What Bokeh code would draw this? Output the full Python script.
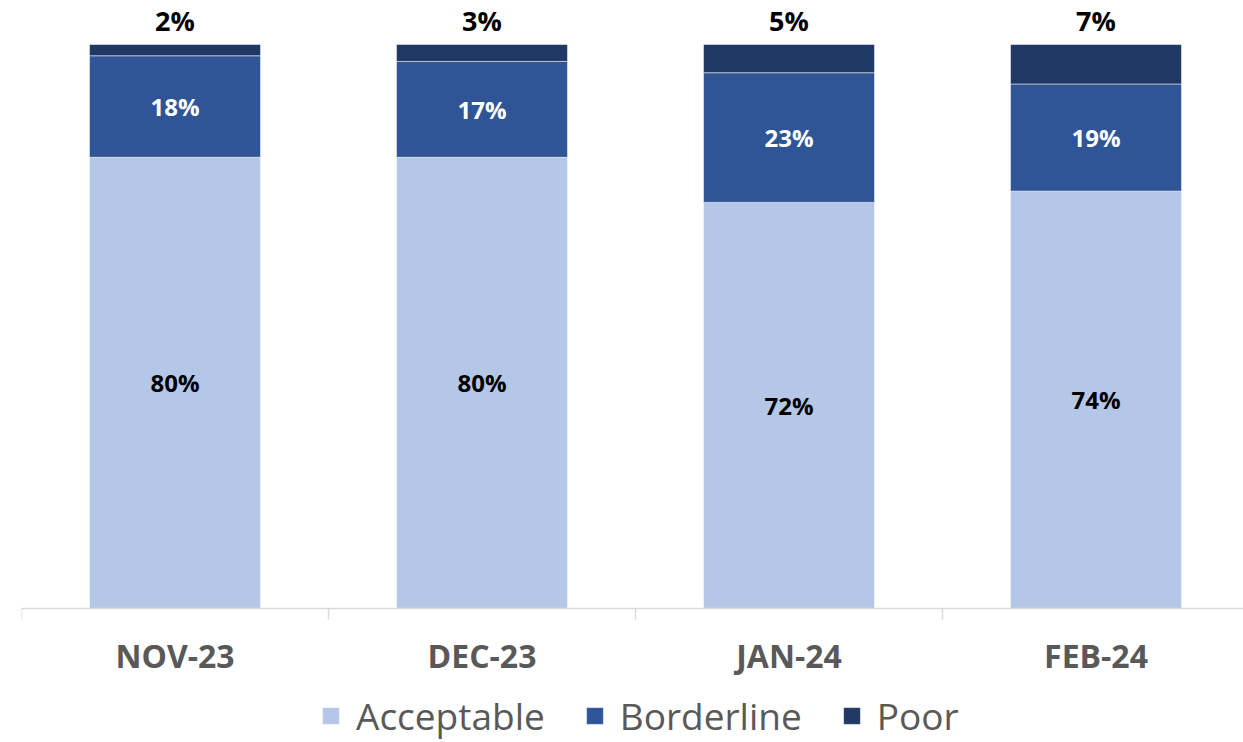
from bokeh.plotting import figure
from bokeh.models import (Range1d, FixedTicker, ColumnDataSource, LabelSet,
                          Legend, LegendItem, LinearAxis)
from bokeh.core.properties import value
from bokeh.embed import file_html
from bokeh.resources import INLINE

months = ["NOV-23", "DEC-23", "JAN-24", "FEB-24"]
acceptable = [80, 80, 72, 74]
borderline = [18, 17, 23, 19]
poor = [2, 3, 5, 7]

series = ["Acceptable", "Borderline", "Poor"]
colors = ["#B4C7E7", "#2F5597", "#203864"]

x = [i + 0.5 for i in range(len(months))]
acc_mid = [a / 2 for a in acceptable]
bord_mid = [a + b / 2 for a, b in zip(acceptable, borderline)]
total = [a + b + c for a, b, c in zip(acceptable, borderline, poor)]

src = ColumnDataSource(dict(
    x=x, Acceptable=acceptable, Borderline=borderline, Poor=poor,
    acc_mid=acc_mid, bord_mid=bord_mid, total=total,
    acc_txt=[f"{v}%" for v in acceptable],
    bord_txt=[f"{v}%" for v in borderline],
    poor_txt=[f"{v}%" for v in poor],
))

FONT = "Open Sans"
cat_px = 307
frame_w = 1222
frame_h = 742
base_px = 608        # pixel row of the 0% baseline
px_per_unit = 5.64   # pixels per percentage point

p = figure(frame_width=frame_w, frame_height=frame_h,
           output_backend="svg", toolbar_location=None,
           x_range=Range1d(0, frame_w / cat_px),
           y_range=Range1d(-(frame_h - base_px) / px_per_unit, base_px / px_per_unit),
           x_axis_location=None, y_axis_location=None,
           min_border_left=21, min_border_right=0, min_border_top=0,
           min_border_bottom=0)
p.outline_line_color = None
p.xgrid.visible = False
p.ygrid.visible = False

rs = p.vbar_stack(series, x="x", width=171 / cat_px, source=src, color=colors,
                  line_color="white", line_width=1, line_alpha=0.5)

ax = LinearAxis(ticker=FixedTicker(ticks=x, minor_ticks=list(range(len(months) + 1))),
                fixed_location=0)
ax.major_label_overrides = {xv: m for xv, m in zip(x, months)}
ax.major_tick_out = 0
ax.major_tick_in = 0
ax.minor_tick_out = 11
ax.minor_tick_in = 0
ax.minor_tick_line_color = "#D9D9D9"
ax.minor_tick_line_width = 1.5
ax.axis_line_color = "#D9D9D9"
ax.axis_line_width = 1.5
ax.major_label_text_font = FONT
ax.major_label_text_font_size = "32px"
ax.major_label_text_font_style = "bold"
ax.major_label_text_color = "#595959"
ax.major_label_standoff = 14
p.add_layout(ax, "below")

common = dict(source=src, x="x", text_font=value(FONT), text_font_style="bold",
              text_align="center")
p.add_layout(LabelSet(y="acc_mid", text="acc_txt", text_color="black",
                      text_font_size="24px", text_baseline="middle", **common))
p.add_layout(LabelSet(y="bord_mid", text="bord_txt", text_color="white",
                      text_font_size="24px", text_baseline="middle", **common))
p.add_layout(LabelSet(y="total", text="poor_txt", text_color="black",
                      text_font_size="27px", text_baseline="middle",
                      y_offset=24, **common))

legend = Legend(items=[LegendItem(label=s, renderers=[r]) for s, r in zip(series, rs)],
                orientation="horizontal", location=(299, 1))
legend.label_text_font = FONT
legend.label_text_font_size = "37px"
legend.label_text_color = "#595959"
legend.glyph_width = 21
legend.glyph_height = 21
legend.label_standoff = 15
legend.spacing = 39
legend.border_line_color = None
legend.background_fill_alpha = 0
legend.padding = 0
legend.margin = 0
p.add_layout(legend, "center")

open("out.html", "w").write(file_html(p, INLINE))
